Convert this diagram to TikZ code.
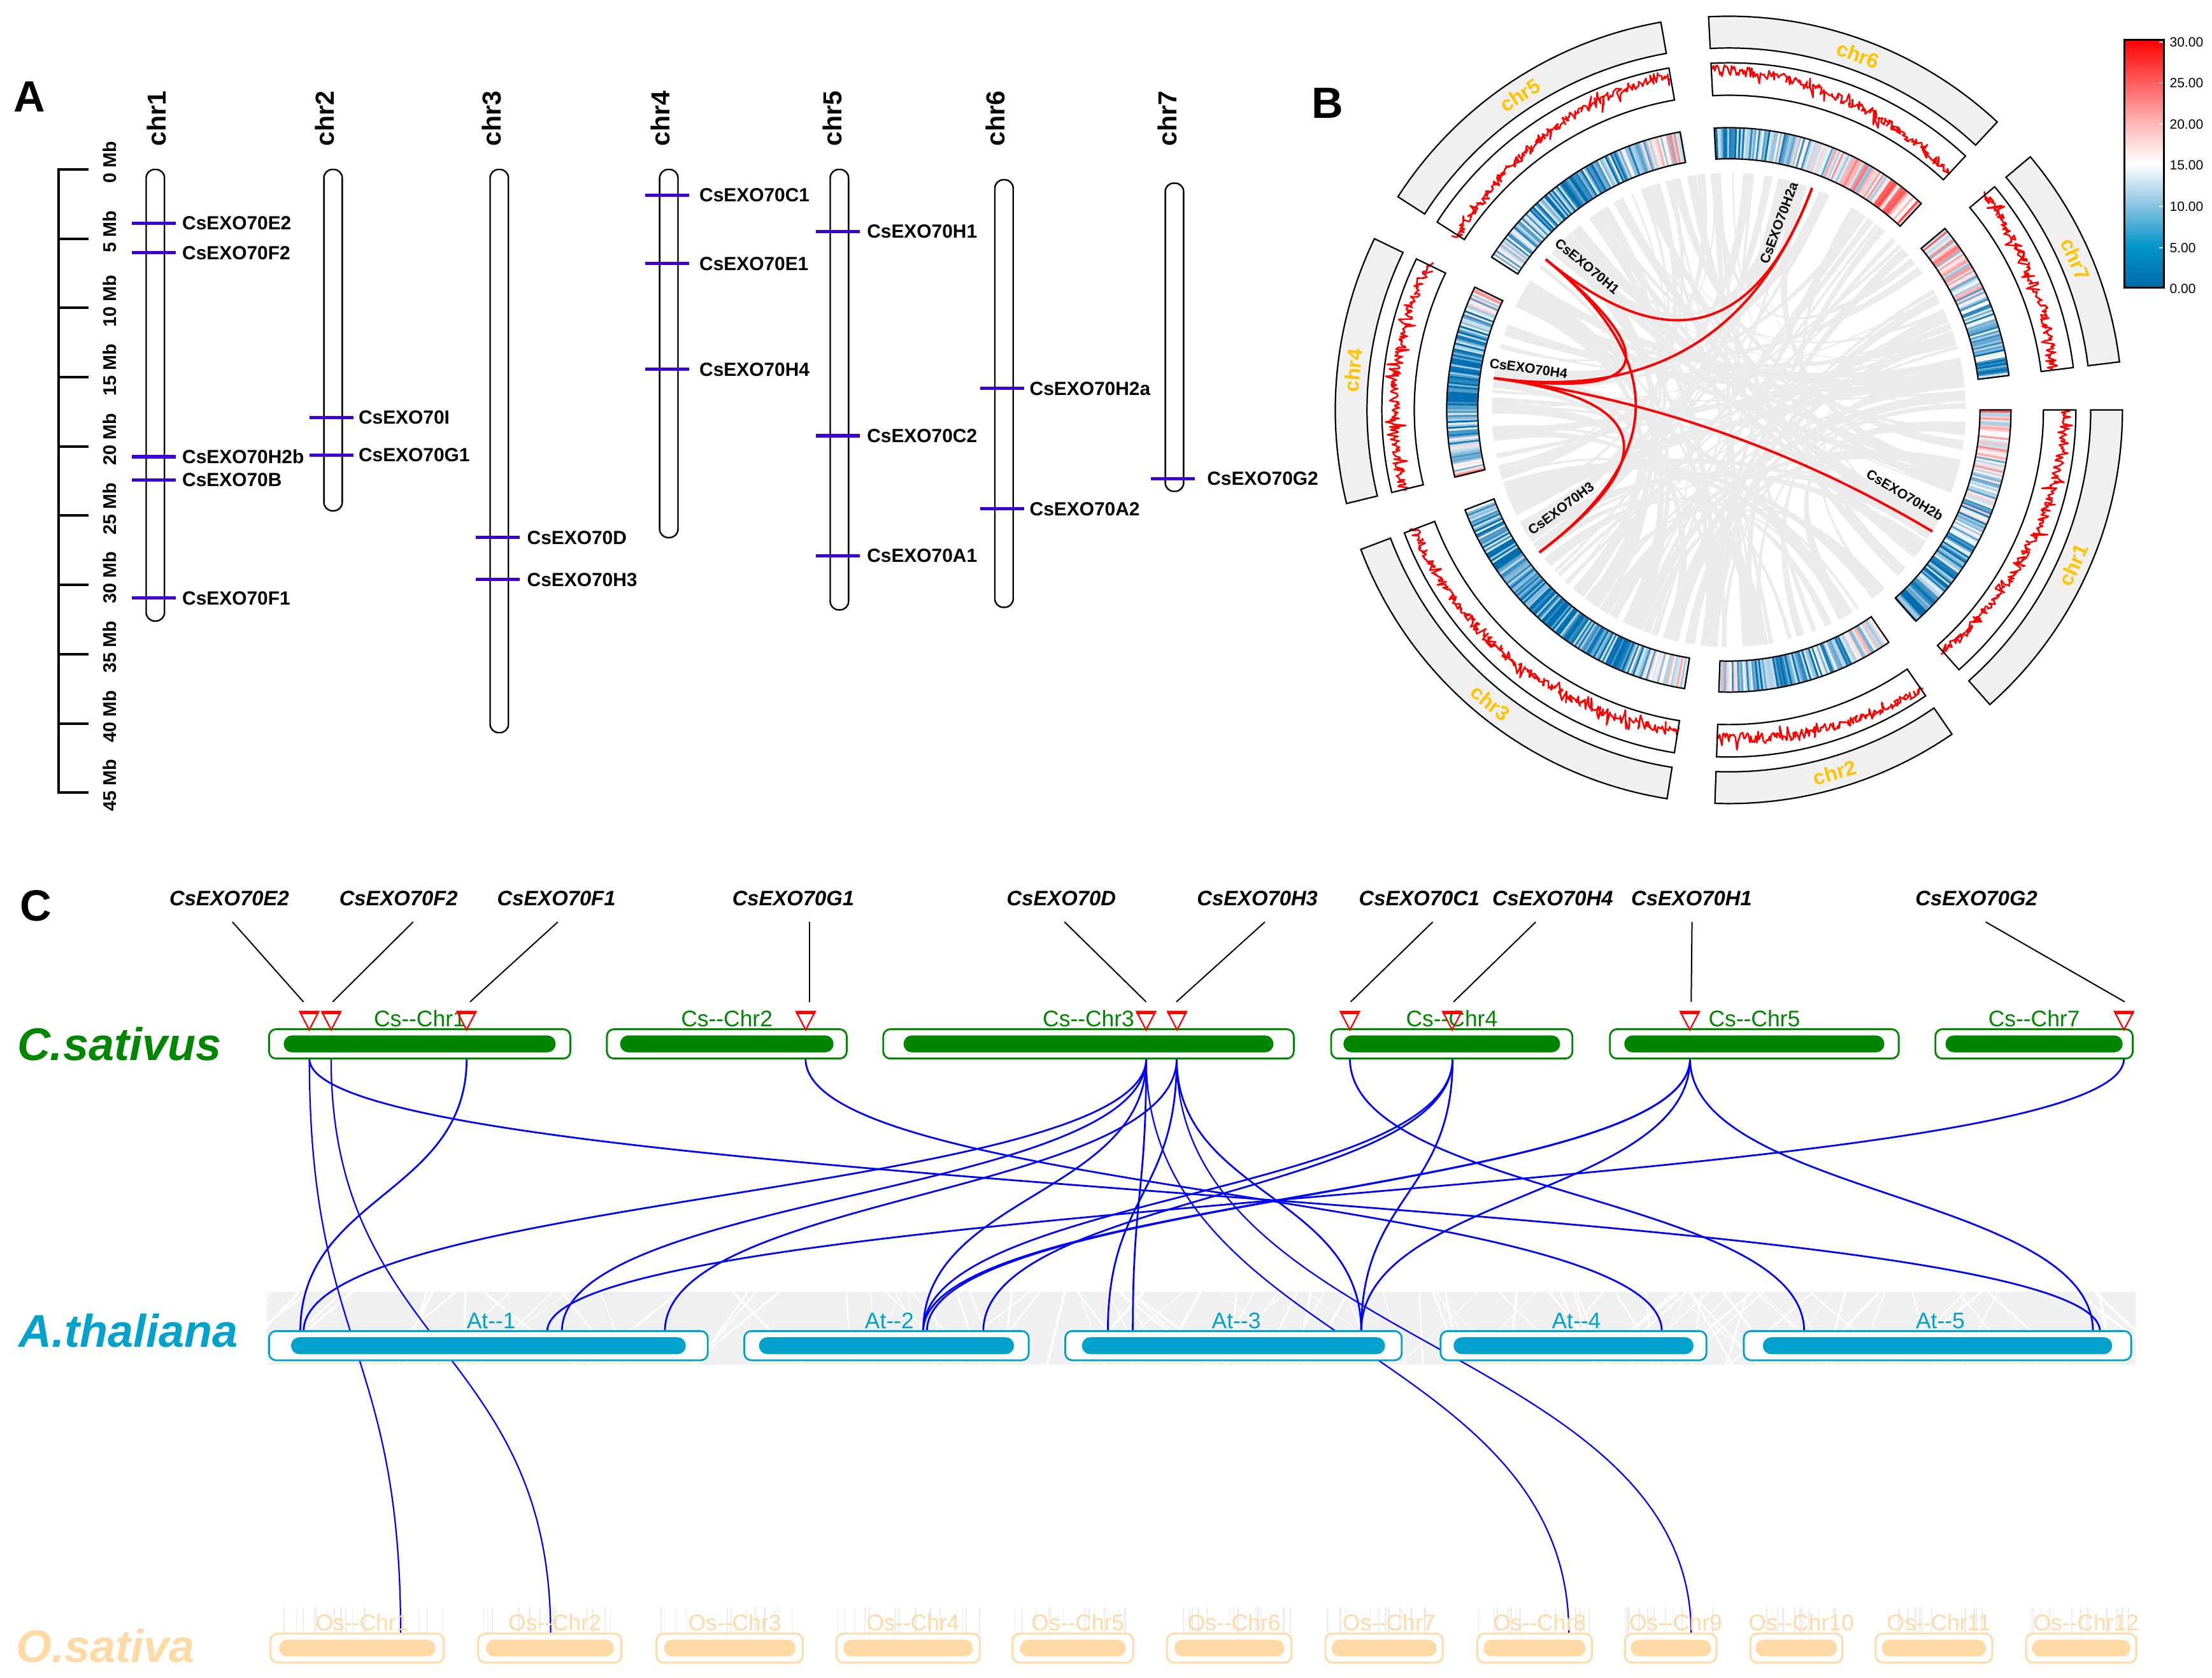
\documentclass[tikz,border=0pt]{standalone}
\usepackage{fontspec}
\setmainfont{Liberation Sans}
\usetikzlibrary{calc}
\newcommand\fsz[1]{\fontsize{#1}{#1}\selectfont}
\newcommand\dd{-\kern0pt-}
\definecolor{genemark}{RGB}{58,0,215}
\definecolor{csgreen}{RGB}{0,134,0}
\definecolor{atblue}{RGB}{0,162,204}
\definecolor{osorange}{RGB}{255,218,165}
\definecolor{chrgold}{RGB}{255,195,0}
\definecolor{heatblue}{RGB}{0,110,176}
\definecolor{hbA}{RGB}{0,104,172}
\definecolor{hbB}{RGB}{0,150,200}
\definecolor{hbC}{RGB}{140,195,225}
\definecolor{hrA}{RGB}{255,180,180}
\definecolor{hrB}{RGB}{255,90,90}
\definecolor{chordgray}{RGB}{235,235,235}
\definecolor{ideogray}{RGB}{240,240,240}
\pgfdeclareverticalshading{heatbar}{100bp}{color(0bp)=(hbA); color(25bp)=(hbA); color(33.33bp)=(hbB); color(41.67bp)=(hbC); color(50bp)=(white); color(58.33bp)=(hrA); color(66.67bp)=(hrB); color(75bp)=(red); color(100bp)=(red)}
\tikzset{
  axisline/.style={line width=1.8, black},
  mblabel/.style={rotate=90, font=\fsz{13}\bfseries, inner sep=0},
  chrlabA/.style={rotate=90, font=\fsz{18.5}\bfseries, inner sep=0},
  chrbody/.style={draw=black, line width=1.1, rounded corners=6, inner sep=0, outer sep=0, minimum width=13},
  genetick/.style={genemark, line width=2.3},
  genelabA/.style={anchor=west, font=\fsz{13.5}\bfseries, inner sep=0},
  panel/.style={font=\fsz{31}\bfseries, inner sep=0},
  ideo/.style={fill=ideogray, draw=black, line width=1},
  trackline/.style={draw=black, line width=1},
  heatstripe/.style={line width=1.5},
  redplot/.style={red, line width=1.15, line join=round},
  chrlabB/.style={font=\fsz{14.6}\bfseries, text=chrgold, inner sep=0},
  redlink/.style={red, line width=1.7},
  linklab/.style={font=\fsz{9.6}\bfseries, inner sep=0},
  cbarlab/.style={anchor=west, font=\fsz{9.5}, inner sep=0},
  geneC/.style={font=\fsz{14.8}\bfseries\itshape, inner sep=0, anchor=base},
  species/.style={font=\fsz{32.5}\bfseries\itshape, anchor=base west, inner sep=0},
  leader/.style={black, line width=0.9},
  tri/.style={red, line width=1, line join=miter},
  synline/.style={blue, line width=1.25},
  passline/.style={blue, line width=1.0},
  boxbase/.style={inner sep=0, outer sep=0},
  csbox/.style={boxbase, draw=csgreen, line width=1.3, fill=white, rounded corners=5, minimum height=20.8},
  csbar/.style={boxbase, fill=csgreen, rounded corners=5.9, minimum height=12},
  atbox/.style={boxbase, draw=atblue, line width=1.3, fill=white, rounded corners=5, minimum height=20.7},
  atbar/.style={boxbase, fill=atblue, rounded corners=5.9, minimum height=12},
  osbox/.style={boxbase, draw=osorange, line width=1.3, fill=white, rounded corners=5, minimum height=20.6},
  osbar/.style={boxbase, fill=osorange, rounded corners=5.8, minimum height=11.8},
  cslab/.style={font=\fsz{16}, text=csgreen, anchor=base, inner sep=0},
  atlab/.style={font=\fsz{16}, text=atblue, anchor=base, inner sep=0},
  oslab/.style={font=\fsz{16}, text=osorange, anchor=base, inner sep=0},
}
\begin{document}
\begin{tikzpicture}[x=1pt,y=-1pt]
\useasboundingbox (0,0) rectangle (1568,1189);

%================ PANEL A ================
\node[panel] (labA) at (20.8,68.5) {A};
\draw[axisline] (62.8,120.1) -- (41.7,120.1) -- (41.7,561.7) -- (62.8,561.7);
\foreach \k in {1,...,8} \draw[axisline] (41.7,{120.1+49.07*\k}) -- (62.8,{120.1+49.07*\k});
\foreach \k [evaluate=\k as \mbv using int(5*\k)] in {0,...,9}
  \node[mblabel] (mb\k) at (77.7,{120.1+49.07*\k-5}) {\mbv\ Mb};

\foreach \n/\cx/\tp/\bt/\lx in {1/110.1/120.1/440.1/110.9, 2/236.1/120.1/362.0/230.4, 3/353.9/120.1/519.2/348.4, 4/474.1/120.1/381.0/468.1, 5/595.0/120.1/432.2/590.0, 6/711.7/127.4/430.4/705.6, 7/832.5/129.8/348.2/827.6}{
  \node[chrbody, minimum height={\bt-\tp}] (Achr\n) at (\cx,{(\tp+\bt)/2}) {};
  \node[chrlabA] (Achrlab\n) at (\lx,84) {chr\n};
}
\foreach \cx/\gy/\lx/\gname in {110.1/158.2/129/E2, 110.1/179.2/129/F2, 110.1/323.7/129/H2b, 110.1/340.2/129/B, 110.1/423.9/129/F1, 236.1/296.0/254/I, 236.1/322.6/254/G1, 353.9/381.0/373.5/D, 353.9/410.8/373.5/H3, 474.1/138.4/495.6/C1, 474.1/186.8/495.6/E1, 474.1/261.8/495.6/H4, 595.0/164.0/614.4/H1, 595.0/308.8/614.4/C2, 595.0/393.8/614.4/A1, 711.7/275.3/729.7/H2a, 711.7/360.6/729.7/A2, 832.5/339.2/855.5/G2}{
  \draw[genetick] (\cx-16.8,\gy) -- (\cx+14.3,\gy);
  \node[genelabA] (A\gname) at (\lx,\gy) {CsEXO70\gname};
}

%================ PANEL B ================
\node[panel] (labB) at (940.9,73.2) {B};
\begin{scope}[shift={(1225.5,290.5)}, y=1pt]
  % grey chords
  \pgfmathsetseed{11}
  \foreach \i in {1,...,115}{
    \pgfmathsetmacro\chA{360*rnd}
    \pgfmathsetmacro\chB{\chA+50+260*rnd}
    \pgfmathsetmacro\chW{0.4+2.6*rnd}
    \fill[chordgray] (\chA:168) arc[start angle=\chA, end angle=\chA+\chW, radius=168]
      .. controls ({\chA+\chW}:56) and (\chB:56) .. (\chB:168)
      arc[start angle=\chB, end angle=\chB+\chW, radius=168]
      .. controls ({\chB+\chW}:56) and (\chA:56) .. (\chA:168) -- cycle;
  }
  % ideogram
  \foreach \s/\e/\n/\rot in {0/-48.46/1/65.77, -55.46/-92.03/2/16.25, -99.03/-159.24/3/-39.1, -166.24/-205.78/4/84.0, -212.78/-260.05/5/33.6, -267.05/-312.99/6/-20.0, -319.99/-352.99/7/-66.5}{
    \filldraw[ideo] (\s:256.5) arc[start angle=\s, end angle=\e, radius=256.5] -- (\e:279) arc[start angle=\e, end angle=\s, radius=279] -- cycle;
    \node[chrlabB, rotate=\rot] (Bchr\n) at ({((\s)+(\e))/2}:267.75) {chr\n};
  }
  % line track
  \pgfmathsetseed{23}
  \foreach \s/\e/\pa/\pb in {0/-48.46/0.75/0.2, -55.46/-92.03/0.8/0.35, -99.03/-159.24/0.3/0.7, -166.24/-205.78/0.65/0.6, -212.78/-260.05/0.15/0.85, -267.05/-312.99/0.85/0.2, -319.99/-352.99/0.6/0.35}{
    \pgfmathtruncatemacro\ns{abs((\e)-(\s))*5}
    \draw[redplot] plot[domain=\s:\e, samples=\ns, variable=\q]
      (\q:{224.5+20*max(0,min(1,\pa+((\pb)-(\pa))*((\q)-(\s))/((\e)-(\s))+0.36*(rnd-0.5)+0.7*(rnd-0.5)*(rnd>0.86)))});
    \draw[trackline] (\s:223) arc[start angle=\s, end angle=\e, radius=223] -- (\e:246) arc[start angle=\e, end angle=\s, radius=246] -- cycle;
  }
  % heatmap track
  \pgfmathsetseed{5}
  \foreach \s/\e/\ha/\hb/\hd in {0/-48.46/0.6/0.2/0.05, -55.46/-92.03/0.5/0.45/0.2, -99.03/-159.24/0.5/0.35/0.25, -166.24/-205.78/0.55/0.5/0.35, -212.78/-260.05/0.45/0.6/0.3, -267.05/-312.99/0.2/0.68/0, -319.99/-352.99/0.58/0.25/0}{
    \pgfmathtruncatemacro\nst{abs((\e)-(\s))/0.4}
    \foreach \j in {0,...,\nst}{
      \pgfmathsetmacro\tq{\j/\nst}
      \pgfmathsetmacro\ang{\s+((\e)-(\s))*\tq}
      \pgfmathsetmacro\vv{\ha*(1-\tq)+\hb*\tq-4*\hd*\tq*(1-\tq)+0.45*(rnd-0.5)}
      \ifdim\vv pt>0.5pt
        \pgfmathsetmacro\pc{min(100,(\vv-0.5)*230)}
        \draw[heatstripe, draw=red!\pc!white] (\ang:178.5) -- (\ang:199.5);
      \else
        \pgfmathsetmacro\pc{min(100,(0.5-\vv)*260)}
        \draw[heatstripe, draw=heatblue!\pc!white] (\ang:178.5) -- (\ang:199.5);
      \fi
    }
    \draw[trackline] (\s:178) arc[start angle=\s, end angle=\e, radius=178] -- (\e:200) arc[start angle=\e, end angle=\s, radius=200] -- cycle;
  }
  % gene link ends
  \foreach \g/\a in {H1/140.57, H2a/69.45, H4/172.29, H3/-143.06, H2b/-30.84}{
    \coordinate (c\g) at (\a:168);
    \coordinate (k\g) at (\a:56);
  }
  \foreach \p/\r in {H1/H2a, H1/H4, H1/H3, H4/H2a, H4/H2b, H4/H3}
    \draw[redlink] (c\p) .. controls (k\p) and (k\r) .. (c\r);
  \node[linklab, rotate=-39.43] (lH1) at (134.6:143) {CsEXO70H1};
  \node[linklab, rotate=69.45] (lH2a) at (75:137) {CsEXO70H2a};
  \node[linklab, rotate=-7.71] (lH4) at (168.3:145) {CsEXO70H4};
  \node[linklab, rotate=36.94] (lH3) at (-149.6:138) {CsEXO70H3};
  \node[linklab, rotate=-30.84] (lH2b) at (-25.8:138.6) {CsEXO70H2b};
\end{scope}
% colour bar
\shade[shading=heatbar] (1506,28.1) rectangle (1533.9,203.9);
\draw[black, line width=1.2] (1506,28.1) rectangle (1533.9,203.9);
\foreach \lab/\yy [count=\ci] in {30.00/29.8, 25.00/58.9, 20.00/88.2, 15.00/117.0, 10.00/146.3, 5.00/175.6, 0.00/204.7}{
  \draw[white, line width=0.8] (1530.3,\yy) -- (1533.2,\yy);
  \node[cbarlab] (cb\ci) at (1537.8,\yy) {\lab};
}

%================ PANEL C ================
\node[panel] (labC) at (25.4,642) {C};
% At background band
\begin{scope}
  \clip (189,915.8) rectangle (1513.8,967);
  \fill[black!6] (189,915.8) rectangle (1513.8,967);
  \pgfmathsetseed{3}
  \foreach \i in {1,...,110}{
    \pgfmathsetmacro\xa{189+1325*rnd}
    \pgfmathsetmacro\xb{\xa+140*(rnd-0.5)}
    \pgfmathsetmacro\lw{0.3+1.3*rnd}
    \draw[white, line width=\lw] (\xa,915.8) -- (\xb,967);
  }
\end{scope}
% Os background stripes
\pgfmathsetseed{9}
\foreach \xl/\xr in {191.8/314.6, 339.0/440.5, 465.4/569.1, 592.9/694.5, 717.8/803.3, 827.2/915.5, 939.5/1022.7, 1047.2/1128.4, 1151.9/1216.7, 1240.7/1306.0, 1329.5/1412.2, 1436.2/1514.3}{
  \foreach \i in {1,...,14}{
    \pgfmathsetmacro\xa{\xl+((\xr)-(\xl))*rnd}
    \pgfmathsetmacro\lw{0.3+1.0*rnd}
    \draw[black!7, line width=\lw] (\xa,1139) -- (\xa,1157.7);
  }
}
% link end points
\foreach \n/\x in {E2/219.3, F2/234.7, F1/330.8, G1/571.0, D/812.5, H3/834.1, C1/956.9, H4/1029.7, H1/1198.0, G2/1505.6}
  \coordinate (cs\n) at (\x,750.2);
\foreach \n/\x in {a/212.9, b/215.2, c/387.9, d/398.3, e/471.3, f/654.4, g/657.0, h/697.0, i/785.3, j/803.0, k/964.9, l/1178.0, m/1278.9, n/1483.6, o/1488.6}
  \coordinate (at\n) at (\x,943.6);
\foreach \n/\x in {1/284.0, 2/390.3, 8/1112.1, 9/1198.8}
  \coordinate (os\n) at (\x,1157.7);
% synteny links
\foreach \s/\t in {E2/o, F1/a, G2/c, H1/n, C1/m, G1/l, D/b, D/d, H3/e, D/f, H4/f, H1/f, H1/g, H4/h, H3/i, D/j, H3/k, H4/k, H1/k}
  \draw[synline] (cs\s) .. controls +(0,96.7) and +(0,-96.7) .. (at\t);
\foreach \s/\t in {E2/1, F2/2, D/8, H3/9}
  \draw[passline] (cs\s) .. controls +(0,203.75) and +(0,-203.75) .. (os\t);
% Cs chromosomes
\foreach \n/\c/\W/\w in {1/297.5/213.6/192.8, 2/515.2/170.0/151.3, 3/771.6/291.0/262.2, 4/1029.1/171.0/153.6, 5/1243.55/204.7/184.3, 7/1441.85/139.9/125.6}{
  \node[csbox, minimum width=\W] (csChr\n) at (\c,739.8) {};
  \node[csbar, minimum width=\w] (csBar\n) at (\c,739.8) {};
  \node[cslab] (csLab\n) at (\c,727.6) {Cs\dd Chr\n};
}
% At chromosomes
\foreach \n/\c/\W/\w in {1/346.2/311.0/279.8, 2/628.4/201.6/180.8, 3/874.35/238.5/214.9, 4/1115.4/188.4/170.0, 5/1373.4/274.6/247.6}{
  \node[atbox, minimum width=\W] (atChr\n) at (\c,953.65) {};
  \node[atbar, minimum width=\w] (atBar\n) at (\c,953.7) {};
  \node[atlab] (atLab\n) at (\c+2,941.4) {At\dd\n};
}
% Os chromosomes
\foreach \n/\c/\W/\w in {1/253.2/122.8/110.9, 2/389.75/101.5/90.7, 3/517.25/103.7/93.3, 4/643.7/101.6/91.7, 5/760.55/85.5/75.1, 6/871.35/88.3/78.1, 7/981.1/83.2/74.5, 8/1087.8/81.2/72.5, 9/1184.3/64.8/57.1, 10/1273.35/65.3/57.7, 11/1370.85/82.7/74.0, 12/1475.25/78.1/69.9}{
  \node[osbox, minimum width=\W] (osChr\n) at (\c,1168) {};
  \node[osbar, minimum width=\w] (osBar\n) at (\c,1168) {};
  \node[oslab] (osLab\n) at (\c+3.5,1155.7) {Os\dd Chr\n};
}
% species names
\node[species, text=csgreen] (spCs) at (12,751.7) {C.sativus};
\node[species, text=atblue] (spAt) at (13,954.7) {A.thaliana};
\node[species, text=osorange] (spOs) at (11.4,1178.3) {O.sativa};
% gene triangles
\foreach \n/\x in {E2/219.2, F2/234.8, F1/330.7, G1/571.1, D/812.4, H3/834.4, C1/956.9, H4/1029.4, H1/1197.8, G2/1505.6}{
  \coordinate (tip\n) at (\x,729.9);
  \draw[tri] (\x-6.75,716.8) -- (\x+6.75,716.8) -- (tip\n) -- cycle;
  \draw[red, line width=2.2] (\x-6.75,717.6) -- (\x+6.75,717.6);
}
% gene names and leaders
\foreach \n/\lx/\tx/\bx in {E2/162.5/164.8/215.1, F2/282.5/292.8/235.8, F1/394.4/395.4/333.2, G1/562.3/573.7/573.7, D/752.3/754.6/812.4, H3/891.3/896.6/833.9, C1/1006.1/1015.6/957.4, H4/1100.6/1088.6/1030.4, H1/1199.1/1199.4/1198.8, G2/1401.0/1407.6/1506.1}{
  \node[geneC] (gC\n) at (\lx,641.9) {CsEXO70\n};
  \coordinate (ldT\n) at (\tx,653.4);
  \coordinate (ldB\n) at (\bx,710);
  \draw[leader] (ldT\n) -- (ldB\n);
}
\end{tikzpicture}
\end{document}
